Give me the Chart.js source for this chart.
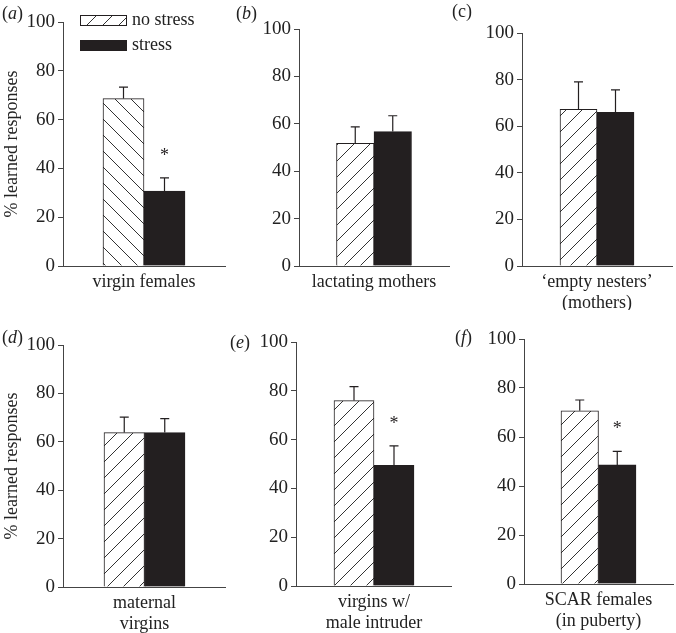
<!DOCTYPE html>
<html>
<head>
<meta charset="utf-8">
<script src="https://cdn.jsdelivr.net/npm/chart.js@4"></script>
<style>
  body { margin: 0; background: #fff; }
  #wrap { position: relative; width: 676px; height: 633px; }
  #wrap canvas { position: absolute; }
  .tag { position: absolute; font: 18px "Liberation Serif", serif; color: #222; line-height: 1; }
</style>
</head>
<body>
<div id="wrap"></div>
<script>
// DATA
const panelTags = ["a", "b", "c", "d", "e", "f"];
const categories = [
  "virgin females",
  "lactating mothers",
  ["\u2018empty nesters\u2019", "(mothers)"],
  ["maternal", "virgins"],
  ["virgins w/", "male intruder"],
  ["SCAR females", "(in puberty)"]
];
const seriesNames = ["no stress", "stress"];
const noStress = [68.6, 51.8, 67.2, 63.8, 76, 70.7];
const noStressErr = [4.7, 6.9, 11.8, 6.4, 5.7, 4.4];
const stress = [30.7, 56.7, 65.9, 63.8, 49.5, 48.6];
const stressErr = [5.4, 6.7, 9.7, 5.8, 7.9, 5.5];
const significant = [true, false, false, false, true, true];
const yTicks = [0, 20, 40, 60, 80, 100];
const yTitle = "% learned responses";

// LAYOUT (one box per panel)
const boxes = [
  {left:0,   top:0,   w:226, h:310, yW:63, padTop:22, xH:44, padR:1, bar:41,   hatch:"back", title:true},
  {left:226, top:0,   w:226, h:310, yW:73, padTop:29, xH:44, padR:3, bar:37.5, hatch:"fwd"},
  {left:452, top:0,   w:224, h:310, yW:70, padTop:33, xH:44, padR:4, bar:37,   hatch:"fwd"},
  {left:0,   top:310, w:226, h:323, yW:63, padTop:35, xH:46, padR:0, bar:40.5, hatch:"fwd", title:true},
  {left:226, top:310, w:226, h:323, yW:70, padTop:32, xH:47, padR:0, bar:40,   hatch:"fwd"},
  {left:452, top:310, w:224, h:323, yW:72, padTop:29, xH:49, padR:3, bar:37.5, hatch:"fwd"}
];
const tagPos = [[2,4],[236,4],[452,2],[2,328],[230,333],[455,328]];

const FONT = "'Liberation Serif', 'Times New Roman', serif";
const INK = "#231f20";
const AXIS = "#444";

function makeHatch(dir) {
  const s = 16;
  const c = document.createElement("canvas");
  c.width = s; c.height = s;
  const g = c.getContext("2d");
  g.fillStyle = "#fff";
  g.fillRect(0, 0, s, s);
  g.strokeStyle = "#333";
  g.lineWidth = 1;
  g.beginPath();
  if (dir === "fwd") {
    g.moveTo(-2, s + 2); g.lineTo(s + 2, -2);
    g.moveTo(-2, 2); g.lineTo(2, -2);
    g.moveTo(s - 2, s + 2); g.lineTo(s + 2, s - 2);
  } else {
    g.moveTo(-2, -2); g.lineTo(s + 2, s + 2);
    g.moveTo(s - 2, -2); g.lineTo(s + 2, 2);
    g.moveTo(-2, s - 2); g.lineTo(2, s + 2);
  }
  g.stroke();
  return g.createPattern(c, "repeat");
}

// error bars + asterisks
const errorBars = {
  id: "errorBars",
  afterDatasetsDraw(chart) {
    const ctx = chart.ctx;
    const y = chart.scales.y;
    ctx.save();
    ctx.strokeStyle = INK;
    ctx.lineWidth = 1.2;
    chart.data.datasets.forEach((ds, di) => {
      const meta = chart.getDatasetMeta(di);
      meta.data.forEach((el, i) => {
        const top = y.getPixelForValue(ds.data[i] + ds.errors[i]);
        ctx.beginPath();
        ctx.moveTo(el.x, el.y);
        ctx.lineTo(el.x, top);
        ctx.moveTo(el.x - 4.5, top);
        ctx.lineTo(el.x + 4.5, top);
        ctx.stroke();
        if (ds.star && ds.star[i]) {
          ctx.fillStyle = INK;
          ctx.font = "18px " + FONT;
          ctx.textAlign = "center";
          ctx.textBaseline = "middle";
          ctx.fillText("*", el.x, top - 22);
        }
      });
    });
    ctx.restore();
  }
};

// legend drawn inside panel (a)
const innerLegend = {
  id: "innerLegend",
  afterDraw(chart, args, opts) {
    if (!opts.show) return;
    const ctx = chart.ctx;
    ctx.save();
    chart.data.datasets.forEach((ds, i) => {
      const yy = 15 + i * 25;
      ctx.fillStyle = ds.legendFill;
      ctx.fillRect(80, yy, 47, 11);
      ctx.strokeStyle = INK;
      ctx.lineWidth = 1;
      ctx.strokeRect(80.5, yy + 0.5, 46, 10);
      ctx.fillStyle = "#222";
      ctx.font = "18px " + FONT;
      ctx.textBaseline = "middle";
      ctx.textAlign = "left";
      ctx.fillText(ds.label, 132, yy + 5.5);
    });
    ctx.restore();
  }
};

const wrap = document.getElementById("wrap");
const fwdHatch = makeHatch("fwd");

panelTags.forEach((tag, p) => {
  const b = boxes[p];
  const cv = document.createElement("canvas");
  cv.style.left = b.left + "px";
  cv.style.top = b.top + "px";
  cv.style.width = b.w + "px";
  cv.style.height = b.h + "px";
  cv.width = b.w; cv.height = b.h;
  wrap.appendChild(cv);

  const t = document.createElement("div");
  t.className = "tag";
  t.style.left = tagPos[p][0] + "px";
  t.style.top = tagPos[p][1] + "px";
  t.innerHTML = tag === "c" ? "(c)" : "(<i>" + tag + "</i>)";
  wrap.appendChild(t);

  new Chart(cv, {
    type: "bar",
    data: {
      labels: [categories[p]],
      datasets: [
        {
          label: seriesNames[0],
          data: [noStress[p]],
          errors: [noStressErr[p]],
          backgroundColor: makeHatch(b.hatch),
          legendFill: fwdHatch,
          borderColor: INK,
          borderWidth: 1,
          barThickness: b.bar
        },
        {
          label: seriesNames[1],
          data: [stress[p]],
          errors: [stressErr[p]],
          star: [significant[p]],
          backgroundColor: INK,
          legendFill: INK,
          borderColor: INK,
          borderWidth: 1,
          barThickness: b.bar
        }
      ]
    },
    options: {
      responsive: false,
      animation: false,
      devicePixelRatio: 1,
      layout: { padding: { left: 0, top: b.padTop, right: b.padR, bottom: 0 } },
      plugins: {
        legend: { display: false },
        tooltip: { enabled: false },
        innerLegend: { show: p === 0 }
      },
      scales: {
        x: {
          grid: { display: false, drawTicks: false },
          border: { display: true, color: AXIS, width: 1 },
          ticks: { color: "#222", padding: 5, font: { family: FONT, size: 18, lineHeight: 1.2 } },
          afterFit(s) { s.height = b.xH; }
        },
        y: {
          min: 0, max: 100,
          afterBuildTicks(s) { s.ticks = yTicks.map(v => ({ value: v })); },
          grid: { display: true, drawOnChartArea: false, drawTicks: true, tickLength: 5, color: AXIS },
          border: { display: true, color: AXIS, width: 1 },
          ticks: { color: "#222", padding: 3, font: { family: FONT, size: 19 } },
          title: {
            display: !!b.title,
            text: yTitle,
            color: "#222",
            padding: { top: 1, bottom: 0 },
            font: { family: FONT, size: 18, lineHeight: 1.2 }
          },
          afterFit(s) { s.width = b.yW; }
        }
      }
    },
    plugins: [errorBars, innerLegend]
  });
});
</script>
</body>
</html>
